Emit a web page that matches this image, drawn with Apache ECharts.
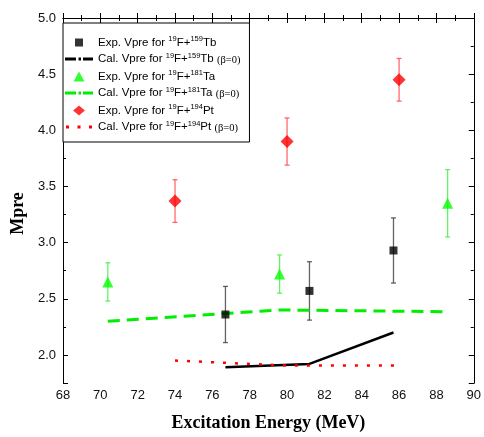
<!DOCTYPE html>
<html>
<head>
<meta charset="utf-8">
<script src="https://cdn.jsdelivr.net/npm/echarts@6/dist/echarts.min.js"></script>
<style>
html,body{margin:0;padding:0;background:#fff;}
#chart{width:484px;height:437px;}
</style>
</head>
<body>
<div id="chart"></div>
<script>
// ---- data ----
var energyTb = [76.7, 81.2, 85.7];
var expTb = [2.36, 2.57, 2.93];
var errTb = [0.25, 0.26, 0.29];
var calTb = [1.89, 1.92, 2.20];

var energyTa = [70.4, 79.6, 88.6];
var expTa = [2.65, 2.72, 3.35];
var errTa = [0.17, 0.17, 0.30];
var calTa = [2.30, 2.40, 2.385];

var energyPt = [74, 80, 86];
var expPt = [3.37, 3.90, 4.45];
var errPt = [0.19, 0.21, 0.19];
var calPt = [1.95, 1.905, 1.905];

var xTicks = [68, 70, 72, 74, 76, 78, 80, 82, 84, 86, 88, 90];
var yTicks = [2.0, 2.5, 3.0, 3.5, 4.0, 4.5, 5.0];

var names = [
  'Exp. Vpre for 19F+159Tb', 'Cal. Vpre for 19F+159Tb (β=0)',
  'Exp. Vpre for 19F+181Ta', 'Cal. Vpre for 19F+181Ta (β=0)',
  'Exp. Vpre for 19F+194Pt', 'Cal. Vpre for 19F+194Pt (β=0)'
];
var richNames = {};
richNames[names[0]] = '{t|Exp. Vpre for }{s|19}{t|F+}{s|159}{t|Tb}';
richNames[names[1]] = '{t|Cal. Vpre for }{s|19}{t|F+}{s|159}{t|Tb }{b|(β=0)}';
richNames[names[2]] = '{t|Exp. Vpre for }{s|19}{t|F+}{s|181}{t|Ta}';
richNames[names[3]] = '{t|Cal. Vpre for }{s|19}{t|F+}{s|181}{t|Ta }{b|(β=0)}';
richNames[names[4]] = '{t|Exp. Vpre for }{s|19}{t|F+}{s|194}{t|Pt}';
richNames[names[5]] = '{t|Cal. Vpre for }{s|19}{t|F+}{s|194}{t|Pt }{b|(β=0)}';

// legend icons (28 x 10 box, marker centred)
var box = 'path://M0,0M28,10';
var legendIcons = [
  box + 'M10,1h8v8h-8z',
  box + 'M0,3.5h11v3h-11zM13.5,3.5h2.5v3h-2.5zM18,3.5h10v3h-10z',
  box + 'M14,0L19.5,10L8.5,10z',
  box + 'M0,3.5h11v3h-11zM13.5,3.5h2.5v3h-2.5zM18,3.5h10v3h-10z',
  box + 'M14,-0.5L20.5,5L14,10.5L7.5,5z',
  box + 'M1,3.5h3v3h-3zM12.5,3.5h3v3h-3zM24,3.5h3v3h-3z'
];

function pairs(xs, ys) { return xs.map(function (x, i) { return [x, ys[i]]; }); }
function errData(xs, ys, es) { return xs.map(function (x, i) { return [x, ys[i] - es[i], ys[i] + es[i]]; }); }

function errSeries(xs, ys, es, color) {
  return {
    type: 'custom',
    name: 'err',
    xAxisIndex: 0, yAxisIndex: 0,
    z: 1,
    silent: true,
    encode: { x: 0, y: [1, 2] },
    data: errData(xs, ys, es),
    renderItem: function (params, api) {
      var lo = api.coord([api.value(0), api.value(1)]);
      var hi = api.coord([api.value(0), api.value(2)]);
      var w = 2.5;
      var st = { stroke: color, lineWidth: 1.3 };
      return {
        type: 'group',
        children: [
          { type: 'line', shape: { x1: lo[0], y1: lo[1], x2: hi[0], y2: hi[1] }, style: st },
          { type: 'line', shape: { x1: lo[0] - w, y1: lo[1], x2: lo[0] + w, y2: lo[1] }, style: st },
          { type: 'line', shape: { x1: hi[0] - w, y1: hi[1], x2: hi[0] + w, y2: hi[1] }, style: st }
        ]
      };
    }
  };
}

var labelFont = { fontFamily: 'Liberation Sans, Arial, sans-serif', fontSize: 13, color: '#111' };
var axisLineStyle = { lineStyle: { color: '#000', width: 1 } };

var chart = echarts.init(document.getElementById('chart'));
chart.setOption({
  animation: false,
  backgroundColor: '#fff',
  grid: { left: 63, right: 6, top: 18, bottom: 49, containLabel: false },
  legend: {
    orient: 'vertical',
    left: 63, top: 23,
    data: names.map(function (n, i) { return { name: n, icon: legendIcons[i] }; }),
    backgroundColor: '#fff',
    borderColor: '#000', borderWidth: 1,
    borderRadius: 0,
    padding: [12, 9, 8, 2],
    itemWidth: 28, itemHeight: 10,
    itemGap: 3,
    selectedMode: false,
    itemStyle: { borderWidth: 0 },
    formatter: function (n) { return richNames[n]; },
    textStyle: {
      color: '#000',
      rich: {
        t: { fontFamily: 'Liberation Sans, Arial, sans-serif', fontSize: 11.5, lineHeight: 15, color: '#000' },
        s: { fontFamily: 'Liberation Sans, Arial, sans-serif', fontSize: 7.5, lineHeight: 15, verticalAlign: 'top', color: '#000' },
        b: { fontFamily: 'Liberation Serif, Times New Roman, serif', fontSize: 10.5, lineHeight: 15, color: '#000', padding: [3, 0, 0, 0] }
      }
    }
  },
  xAxis: [
    {
      type: 'value', min: 68, max: 90, interval: 2, position: 'bottom',
      name: 'Excitation Energy (MeV)', nameLocation: 'middle', nameGap: 31,
      nameTextStyle: { fontFamily: 'Liberation Serif, Times New Roman, serif', fontWeight: 'bold', fontSize: 18, color: '#000' },
      axisLine: axisLineStyle,
      axisTick: { show: true, inside: true, length: 5, lineStyle: { color: '#000' } },
      minorTick: { show: true, splitNumber: 2, length: 3, lineStyle: { color: '#000' } },
      axisLabel: Object.assign({ margin: 6, showMinLabel: true, showMaxLabel: true }, labelFont),
      splitLine: { show: false }
    },
    {
      type: 'value', min: 68, max: 90, interval: 2, position: 'top',
      axisLine: axisLineStyle,
      axisTick: { show: true, inside: true, length: 5, lineStyle: { color: '#000' } },
      minorTick: { show: true, splitNumber: 2, length: 3, lineStyle: { color: '#000' } },
      axisLabel: { show: false },
      splitLine: { show: false }
    }
  ],
  yAxis: [
    {
      type: 'value', min: 1.75, max: 5.0, interval: 0.25, position: 'left', offset: 0,
      axisLine: axisLineStyle,
      axisTick: { show: true, inside: true, length: 3, lineStyle: { color: '#000' } },
      axisLabel: { show: false },
      splitLine: { show: false }
    },
    {
      type: 'value', inverse: true, min: 0, max: 3.25, interval: 0.5, position: 'left', offset: 0,
      name: 'Mpre', nameLocation: 'middle', nameGap: 36, nameRotate: 90,
      nameTextStyle: { fontFamily: 'Liberation Serif, Times New Roman, serif', fontWeight: 'bold', fontSize: 18, color: '#000', padding: [0, 26, 0, 0] },
      axisLine: axisLineStyle,
      axisTick: { show: true, inside: true, length: 5, lineStyle: { color: '#000' } },
      axisLabel: Object.assign({
        margin: 7,
        formatter: function (v) { var val = 5 - v; return yTicks.indexOf(Math.round(val * 10) / 10) >= 0 ? val.toFixed(1) : ''; }
      }, labelFont),
      splitLine: { show: false }
    },
    {
      type: 'value', min: 1.75, max: 5.0, interval: 0.25, position: 'right', offset: 0,
      axisLine: axisLineStyle,
      axisTick: { show: true, inside: true, length: 3, lineStyle: { color: '#000' } },
      axisLabel: { show: false },
      splitLine: { show: false }
    },
    {
      type: 'value', inverse: true, min: 0, max: 3.25, interval: 0.5, position: 'right', offset: 0,
      axisLine: axisLineStyle,
      axisTick: { show: true, inside: true, length: 5, lineStyle: { color: '#000' } },
      axisLabel: { show: false },
      splitLine: { show: false }
    }
  ],
  series: [
    errSeries(energyTb, expTb, errTb, 'rgba(60,60,60,0.8)'),
    errSeries(energyTa, expTa, errTa, 'rgba(60,240,60,0.8)'),
    errSeries(energyPt, expPt, errPt, 'rgba(255,70,70,0.8)'),
    {
      name: names[0], type: 'scatter', xAxisIndex: 0, yAxisIndex: 0, z: 3,
      symbol: 'rect', symbolSize: 8, itemStyle: { color: '#000' },
      data: pairs(energyTb, expTb)
    },
    {
      name: names[1], type: 'line', xAxisIndex: 0, yAxisIndex: 0, z: 2,
      showSymbol: false, symbol: 'none',
      lineStyle: { color: '#000', width: 2.5, type: 'solid' },
      itemStyle: { color: '#000' },
      data: pairs(energyTb, calTb)
    },
    {
      name: names[2], type: 'scatter', xAxisIndex: 0, yAxisIndex: 0, z: 3,
      symbol: 'triangle', symbolSize: 11, itemStyle: { color: '#00ff00' },
      data: pairs(energyTa, expTa)
    },
    {
      name: names[3], type: 'line', xAxisIndex: 0, yAxisIndex: 0, z: 2,
      showSymbol: false, symbol: 'none',
      lineStyle: { color: '#00ee00', width: 3, type: [12, 7] },
      itemStyle: { color: '#00ee00' },
      data: pairs(energyTa, calTa)
    },
    {
      name: names[4], type: 'scatter', xAxisIndex: 0, yAxisIndex: 0, z: 3,
      symbol: 'diamond', symbolSize: 13, itemStyle: { color: '#ff0000' },
      data: pairs(energyPt, expPt)
    },
    {
      name: names[5], type: 'line', xAxisIndex: 0, yAxisIndex: 0, z: 2,
      showSymbol: false, symbol: 'none',
      lineStyle: { color: '#ff0000', width: 2.5, type: [3, 9] },
      itemStyle: { color: '#ff0000' },
      data: pairs(energyPt, calPt)
    }
  ]
});
</script>
</body>
</html>
